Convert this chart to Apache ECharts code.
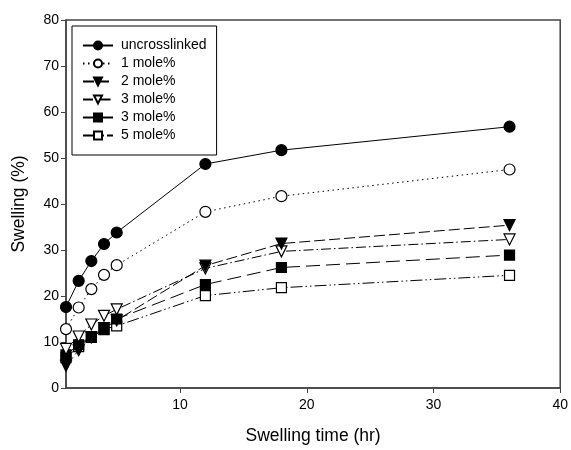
<!DOCTYPE html>
<html>
<head>
<meta charset="utf-8">
<script src="https://cdn.jsdelivr.net/npm/echarts@6/dist/echarts.min.js"></script>
<style>
html,body{margin:0;padding:0;background:#fff;}
#chart{width:571px;height:450px;}
</style>
</head>
<body>
<div id="chart"></div>
<script>
// Data
const times = [1, 2, 3, 4, 5, 12, 18, 36];
const uncrosslinked = [17.6, 23.3, 27.6, 31.3, 33.8, 48.7, 51.7, 56.8];
const mole1 = [12.8, 17.5, 21.5, 24.6, 26.7, 38.3, 41.7, 47.5];
const mole2 = [4.8, 8.2, 11.0, 13.0, 14.7, 26.6, 31.4, 35.4];
const mole3open = [8.5, 11.2, 13.8, 15.7, 17.1, 26.0, 29.7, 32.3];
const mole3filled = [7.2, 9.4, 11.2, 12.7, 15.0, 22.5, 26.2, 28.9];
const mole5 = [6.6, 9.0, 11.0, 12.8, 13.5, 20.1, 21.8, 24.5];
const seriesLabels = ['uncrosslinked', '1 mole%', '2 mole%', '3 mole%', '3 mole%', '5 mole%'];
const xTicks = [10, 20, 30, 40];

const seriesIds = seriesLabels.map((l, i) => 's' + i);
const values = [uncrosslinked, mole1, mole2, mole3open, mole3filled, mole5];
const styles = [
  {symbol: 'circle', rotate: 0, size: 11, fill: '#000', dash: 'solid'},
  {symbol: 'circle', rotate: 0, size: 11, fill: '#fff', dash: [1.5, 3.5]},
  {symbol: 'triangle', rotate: 180, size: 11, fill: '#000', dash: [11, 4]},
  {symbol: 'triangle', rotate: 180, size: 11, fill: '#fff', dash: [10, 3, 1.5, 3]},
  {symbol: 'rect', rotate: 0, size: 10, fill: '#000', dash: [14, 6]},
  {symbol: 'rect', rotate: 0, size: 10, fill: '#fff', dash: [12, 3, 1.5, 3, 1.5, 3]}
];

const chart = echarts.init(document.getElementById('chart'));
const FONT = 'Liberation Sans, Arial, sans-serif';

const series = values.map((vals, i) => ({
  type: 'line',
  name: seriesIds[i],
  data: times.map((t, j) => [t, vals[j]]),
  symbol: styles[i].symbol,
  symbolRotate: styles[i].rotate,
  symbolSize: styles[i].size,
  showAllSymbol: true,
  z: 10 - i,
  lineStyle: {color: '#000', width: 1, type: styles[i].dash},
  itemStyle: {color: styles[i].fill, borderColor: '#000', borderWidth: 1.2, opacity: 1},
  emphasis: {disabled: true},
  animation: false
}));

chart.setOption({
  animation: false,
  backgroundColor: '#fff',
  grid: {left: 66, right: 10, top: 20, bottom: 62, show: true, borderColor: '#444', borderWidth: 1.5},
  legend: {
    orient: 'vertical',
    left: 72, top: 26,
    data: seriesIds,
    formatter: name => seriesLabels[seriesIds.indexOf(name)],
    itemWidth: 30, itemHeight: 10, itemGap: 3,
    padding: [12, 10, 12, 10],
    borderColor: '#000', borderWidth: 1,
    backgroundColor: '#fff',
    selectedMode: false,
    textStyle: {fontFamily: FONT, fontSize: 14, color: '#000', lineHeight: 15, padding: [0, 0, 0, 3]}
  },
  xAxis: {
    type: 'value', min: 1, max: 40,
    name: 'Swelling time (hr)', nameLocation: 'middle', nameGap: 39,
    nameTextStyle: {fontFamily: FONT, fontSize: 17.5, color: '#000'},
    axisLine: {lineStyle: {color: '#444', width: 1.5}},
    axisTick: {show: true, customValues: xTicks, length: 5, inside: false, lineStyle: {color: '#444'}},
    axisLabel: {customValues: xTicks, fontFamily: FONT, fontSize: 14, color: '#000', margin: 10},
    splitLine: {show: false}
  },
  yAxis: {
    type: 'value', min: 0, max: 80, interval: 10,
    name: 'Swelling (%)', nameLocation: 'middle', nameGap: 38,
    nameTextStyle: {fontFamily: FONT, fontSize: 17.5, color: '#000'},
    axisLine: {show: true, lineStyle: {color: '#444', width: 1.5}},
    axisTick: {show: true, length: 5, inside: false, lineStyle: {color: '#444'}},
    axisLabel: {fontFamily: FONT, fontSize: 14, color: '#000', margin: 7},
    splitLine: {show: false}
  },
  series: series
});
</script>
</body>
</html>
